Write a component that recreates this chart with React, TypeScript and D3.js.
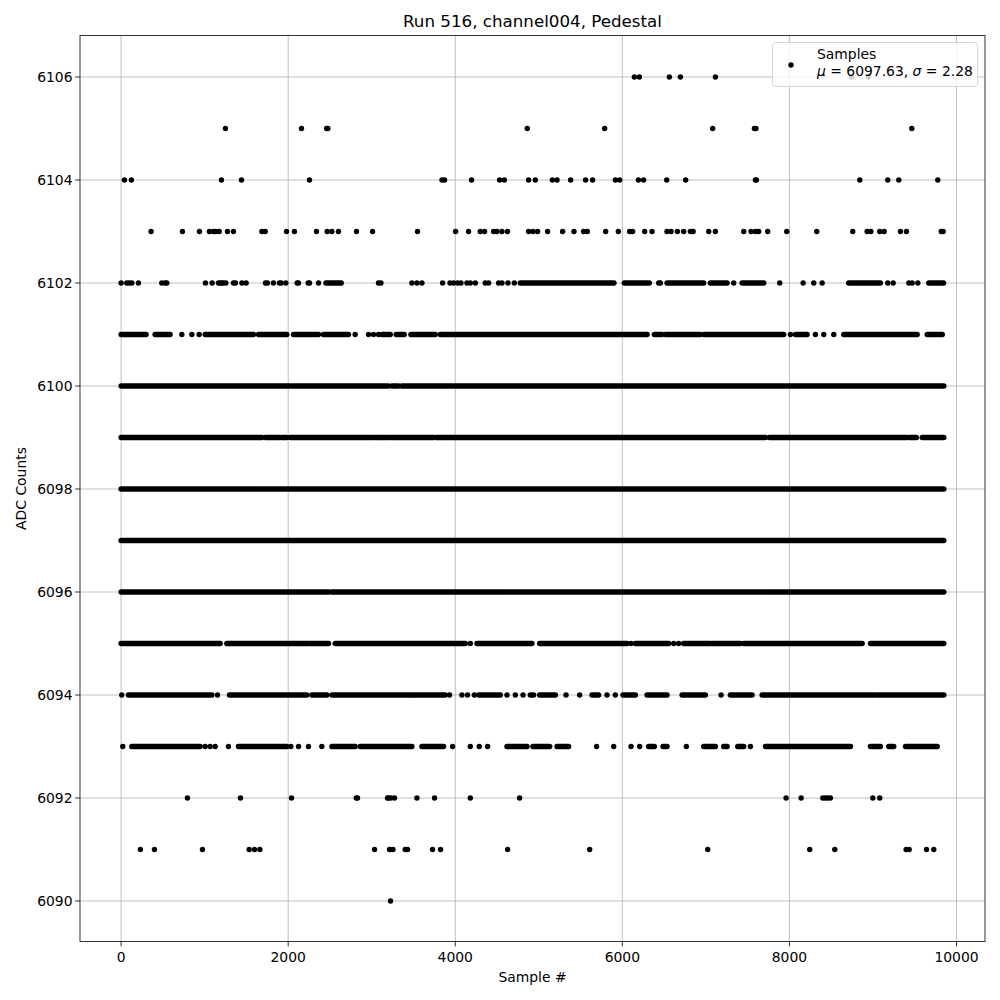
import React from "react";
import * as d3 from "d3";

// sample numbers of isolated points, per ADC level
const pts6106 = [6144, 6204, 6563, 6695, 7114, 8743, 8946];
const pts6105 = [1249, 2159, 2460, 2475, 4862, 5788, 7081, 7581, 7599, 9465];
const pts6104 = [
  40, 123, 1201, 1441, 2255, 3841, 3872, 4195, 4531, 4587, 4878, 4958, 5162,
  5218, 5381, 5560, 5644, 5916, 5968, 6192, 6255, 6531, 6758, 7593, 7605, 8842,
  9177, 9309, 9776,
];
const pts6103 = [
  359, 734, 938, 1057, 1105, 1134, 1174, 1273, 1345, 1685, 1725, 1980, 2075,
  2339, 2467, 2523, 2602, 2818, 3010, 3548, 4004, 4159, 4299, 4351, 4459, 4499,
  4559, 4626, 4878, 4930, 4986, 5105, 5285, 5421, 5536, 5581, 5800, 5952, 6087,
  6123, 6267, 6356, 6535, 6583, 6659, 6734, 6814, 6847, 7034, 7114, 7453, 7541,
  7593, 7632, 7740, 7968, 8327, 8758, 8930, 8974, 9081, 9134, 9329, 9401, 9817,
  9840,
];
const pts6102 = [
  0, 68, 96, 128, 207, 487, 527, 547, 1010, 1090, 1165, 1186, 1206, 1225, 1254,
  1345, 1369, 1446, 1497, 1728, 1752, 1824, 1896, 1916, 1972, 2108, 2123, 2240,
  2255, 2363, 3081, 3110, 3481, 3541, 3601, 3848, 3937, 3980, 4028, 4068, 4140,
  4180, 4240, 4359, 4399, 4519, 4559, 4631, 4707, 6435, 6455, 7333, 7884, 8164,
  8291, 8392, 9177, 9242, 9429, 9469, 9537,
];
const pts6101 = [727, 847, 934, 2802, 2962, 3022, 3081, 8012, 8311, 8411, 8531];
const pts6095 = [4180, 6104, 6615, 6674];
const pts6094 = [
  8, 1154, 3932, 4080, 4147, 4228, 4619, 4719, 4811, 5326, 5489, 5816, 5916,
  7182,
];
const pts6093 = [
  20, 1006, 1066, 1126, 1285, 2032, 2124, 2243, 2403, 3968, 4180, 4287, 4387,
  5692, 5896, 6104, 6207, 6766, 7533,
];
const pts6092 = [
  794, 1429, 2040, 2815, 2830, 3189, 3201, 3230, 3273, 3541, 3752, 4180, 4770,
  7960, 8140, 8400, 8430, 8460, 8490, 8998, 9081,
];
const pts6091 = [
  231, 399, 974, 1533, 1597, 1661, 3034, 3213, 3222, 3254, 3401, 3429, 3728,
  3824, 4627, 5609, 7022, 8243, 8543, 9397, 9433, 9641, 9728,
];
const pts6090 = [3225];

// stretches of sample numbers where dots overlap into a solid band
const runs6102 = [
  [2452, 2635], [4778, 5900], [6023, 6323], [6535, 6974], [7054, 7254],
  [7433, 7692], [8710, 9089], [9668, 9845],
];
const runs6101 = [
  [0, 299], [407, 587], [1006, 1585], [1645, 1984], [2064, 2363], [2423, 2722],
  [3122, 3222], [3293, 3389], [3469, 3760], [3820, 6296], [6383, 6475],
  [6515, 6934], [6974, 7932], [8072, 8212], [8650, 9529], [9649, 9830],
];
const runs6100 = [[0, 3200], [3242, 3321], [3360, 9848]];
const runs6099 = [
  [0, 1685], [1725, 1904], [1925, 1984], [2024, 3022], [3042, 3222],
  [3242, 3741], [3772, 7712], [7760, 9400], [9430, 9520], [9590, 9848],
];
const runs6098 = [[0, 9848]];
const runs6097 = [[0, 9848]];
const runs6096 = [[0, 1225], [1245, 2483], [2520, 9848]];
const runs6095 = [
  [0, 1186], [1265, 2243], [2263, 2483], [2563, 4120], [4260, 4918],
  [5010, 6056], [6156, 6555], [6734, 7054], [7074, 7254], [7273, 7413],
  [7453, 8871], [8970, 9848],
];
const runs6094 = [
  [88, 1086], [1297, 2224], [2284, 2463], [2523, 3481], [3501, 3880],
  [4279, 4539], [4898, 4938], [5010, 5198], [5637, 5716], [6008, 6156],
  [6296, 6535], [6715, 6994], [7293, 7553], [7673, 9030], [9060, 9848],
];
const runs6093 = [
  [128, 946], [1405, 1984], [2523, 2802], [2862, 3481], [3601, 3860],
  [4619, 4859], [4930, 5130], [5218, 5357], [6315, 6383], [6487, 6535],
  [6974, 7114], [7213, 7254], [7381, 7453], [7713, 8731], [8970, 9089],
  [9189, 9249], [9389, 9769],
];

const xTicks = [0, 2000, 4000, 6000, 8000, 10000];
const yTicks = [6090, 6092, 6094, 6096, 6098, 6100, 6102, 6104, 6106];

const levels = [
  { adc: 6106, points: pts6106, runs: [] },
  { adc: 6105, points: pts6105, runs: [] },
  { adc: 6104, points: pts6104, runs: [] },
  { adc: 6103, points: pts6103, runs: [] },
  { adc: 6102, points: pts6102, runs: runs6102 },
  { adc: 6101, points: pts6101, runs: runs6101 },
  { adc: 6100, points: [], runs: runs6100 },
  { adc: 6099, points: [], runs: runs6099 },
  { adc: 6098, points: [], runs: runs6098 },
  { adc: 6097, points: [], runs: runs6097 },
  { adc: 6096, points: [], runs: runs6096 },
  { adc: 6095, points: pts6095, runs: runs6095 },
  { adc: 6094, points: pts6094, runs: runs6094 },
  { adc: 6093, points: pts6093, runs: runs6093 },
  { adc: 6092, points: pts6092, runs: [] },
  { adc: 6091, points: pts6091, runs: [] },
  { adc: 6090, points: pts6090, runs: [] },
];

const left = 80;
const right = 985;
const top = 35.5;
const bottom = 941.5;
const R = 2.7;
const font = "DejaVu Sans, sans-serif";

export default function App() {
  const x = d3.scaleLinear().domain([-492, 10341]).range([left, right]);
  const y = d3.scaleLinear().domain([6089.2, 6106.8]).range([942.2, 35.8]);

  return (
    <svg
      width={1000}
      height={1000}
      style={{ position: "absolute", left: 0, top: 0, background: "#fff" }}
      fontFamily={font}
    >
      <rect x={0} y={0} width={1000} height={1000} fill="#fff" />
      <text x={(left + right) / 2} y={27} fontSize={16.7} textAnchor="middle">
        Run 516, channel004, Pedestal
      </text>

      {/* grid */}
      <g stroke="#b0b0b0" strokeWidth={0.8}>
        {xTicks.map((t) => (
          <line key={t} x1={x(t)} x2={x(t)} y1={top} y2={bottom} />
        ))}
        {yTicks.map((t) => (
          <line key={t} x1={left} x2={right} y1={y(t)} y2={y(t)} />
        ))}
      </g>

      {/* samples */}
      <g fill="#000" stroke="#000">
        {levels.map((lv) => (
          <g key={lv.adc}>
            {lv.runs.map((r, i) => (
              <line
                key={"r" + i}
                x1={x(r[0])}
                x2={x(r[1])}
                y1={y(lv.adc)}
                y2={y(lv.adc)}
                strokeWidth={R * 2}
                strokeLinecap="round"
              />
            ))}
            {lv.points.map((p, i) => (
              <circle key={"p" + i} cx={x(p)} cy={y(lv.adc)} r={R} stroke="none" />
            ))}
          </g>
        ))}
      </g>

      {/* axes frame */}
      <rect
        x={left}
        y={top}
        width={right - left}
        height={bottom - top}
        fill="none"
        stroke="#000"
        strokeWidth={0.8}
      />

      {/* x axis */}
      <g fontSize={13.9} textAnchor="middle">
        {xTicks.map((t) => (
          <g key={t}>
            <line x1={x(t)} x2={x(t)} y1={bottom} y2={bottom + 4.9} stroke="#000" strokeWidth={0.8} />
            <text x={x(t)} y={bottom + 20}>
              {t}
            </text>
          </g>
        ))}
      </g>
      <text x={(left + right) / 2} y={982} fontSize={13.9} textAnchor="middle">
        Sample #
      </text>

      {/* y axis */}
      <g fontSize={13.9} textAnchor="end">
        {yTicks.map((t) => (
          <g key={t}>
            <line x1={left - 4.9} x2={left} y1={y(t)} y2={y(t)} stroke="#000" strokeWidth={0.8} />
            <text x={left - 7.5} y={y(t)} dy="0.35em">
              {t}
            </text>
          </g>
        ))}
      </g>
      <text
        transform={`translate(26,${(top + bottom) / 2}) rotate(-90)`}
        fontSize={13.9}
        textAnchor="middle"
      >
        ADC Counts
      </text>

      {/* legend */}
      <g>
        <rect
          x={772.5}
          y={42.5}
          width={205}
          height={44}
          rx={3}
          fill="#fff"
          fillOpacity={0.8}
          stroke="#cccccc"
          strokeWidth={0.8}
        />
        <circle cx={791} cy={65} r={R} fill="#000" />
        <text x={817} y={59} fontSize={13.9}>
          Samples
        </text>
        <text x={817} y={76} fontSize={13.9}>
          <tspan fontStyle="italic">μ</tspan> = 6097.63, <tspan fontStyle="italic">σ</tspan> = 2.28
        </text>
      </g>
    </svg>
  );
}
